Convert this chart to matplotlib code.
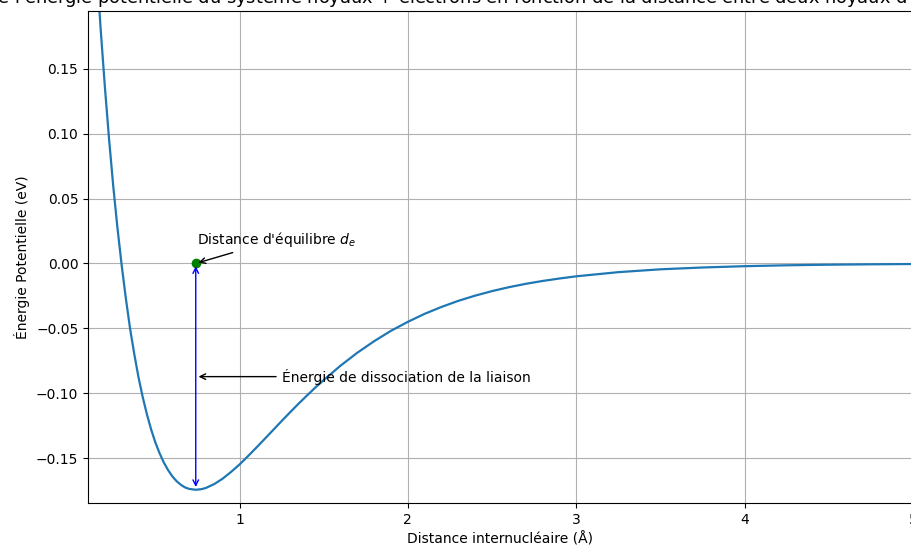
import matplotlib
matplotlib.use('Agg')
import matplotlib.pyplot as plt

# distance internucléaire (Å) et énergie
distance = [0.10, 0.125, 0.15, 0.175, 0.20, 0.225, 0.25, 0.275, 0.30, 0.325,
            0.35, 0.375, 0.40, 0.425, 0.45, 0.475, 0.50, 0.525, 0.55, 0.575,
            0.60, 0.625, 0.65, 0.675, 0.70, 0.74, 0.775, 0.80, 0.85, 0.90,
            0.95, 1.00, 1.05, 1.10, 1.15, 1.20, 1.25, 1.30, 1.35, 1.40,
            1.45, 1.50, 1.60, 1.70, 1.80, 1.90, 2.00, 2.10, 2.20, 2.30,
            2.40, 2.50, 2.60, 2.70, 2.80, 2.90, 3.00, 3.25, 3.50, 3.75,
            4.00, 4.25, 4.50, 4.75, 5.00]
energie = [0.349, 0.287, 0.231, 0.181, 0.1365, 0.096, 0.0595, 0.0273, -0.0014, -0.0271,
           -0.0503, -0.0700, -0.0878, -0.1030, -0.1164, -0.1280, -0.1380, -0.1463, -0.1534, -0.1592,
           -0.1640, -0.1677, -0.1705, -0.1726, -0.1738, -0.1745, -0.1740, -0.1731, -0.1701, -0.1659,
           -0.1607, -0.1550, -0.1486, -0.1420, -0.1352, -0.1284, -0.1215, -0.1148, -0.1082, -0.1019,
           -0.0957, -0.0899, -0.0788, -0.0688, -0.0599, -0.0519, -0.0450, -0.0388, -0.0335, -0.0288,
           -0.0248, -0.0213, -0.0183, -0.0157, -0.0135, -0.0116, -0.0099, -0.0067, -0.0045, -0.0031,
           -0.0021, -0.0014, -0.00095, -0.00065, -0.00043]

d_eq = 0.74        # distance d'équilibre
E_diss = 0.1745    # énergie de dissociation

fig = plt.figure(figsize=(9.12, 5.48), dpi=100)
ax = fig.add_axes([0.0965, 0.0821, 0.9045, 0.8979])

ax.plot(distance, energie, color='#1f77b4', linewidth=1.6)

ax.scatter([d_eq], [0], color='green', zorder=3)
ax.annotate('', xy=(d_eq, -E_diss), xytext=(d_eq, 0),
            arrowprops=dict(arrowstyle='<->', color='blue'))
ax.annotate("Distance d'équilibre $d_e$", xy=(d_eq, 0), xytext=(0.75, 0.015),
            arrowprops=dict(arrowstyle='->', color='black'))
ax.annotate('Énergie de dissociation de la liaison', xy=(d_eq, -E_diss / 2),
            xytext=(1.25, -E_diss / 2), va='center',
            arrowprops=dict(arrowstyle='->', color='black'))

ax.set_xlim(0.1, 5)
ax.set_ylim(-0.1847, 0.1947)
ax.set_title("Courbe de l'énergie potentielle du système noyaux + électrons en fonction "
             "de la distance entre deux noyaux d'hydrogène dans H$_2$", fontsize=12.8)
ax.set_xlabel('Distance internucléaire (Å)')
ax.set_ylabel('Énergie Potentielle (eV)')
ax.grid(True)

plt.savefig('out.png', dpi=100)
